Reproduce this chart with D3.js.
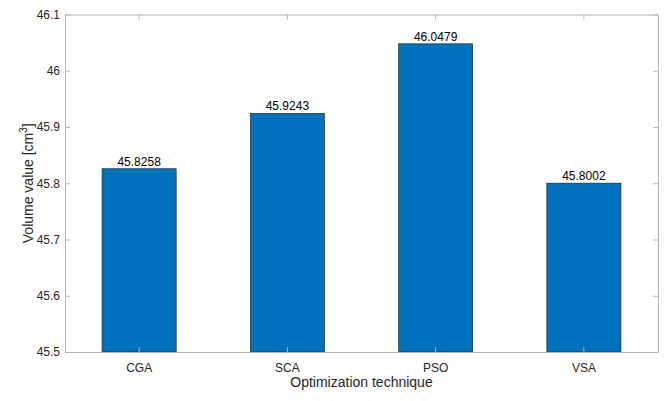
<!DOCTYPE html>
<html>
<head>
<meta charset="utf-8">
<script src="https://cdn.jsdelivr.net/npm/d3@7"></script>
<style>
  body { margin: 0; background: #fff; }
  text { font-family: "Liberation Sans", Arial, sans-serif; }
</style>
</head>
<body>
<svg id="chart" width="670" height="401"></svg>
<script>
// data
var categories = ["CGA", "SCA", "PSO", "VSA"];
var volumes = [45.8258, 45.9243, 46.0479, 45.8002];
var yTicks = [45.5, 45.6, 45.7, 45.8, 45.9, 46, 46.1];

var margin = { left: 65, right: 12, top: 14.5, bottom: 49 };
var W = 670, H = 401;
var svg = d3.select("#chart");

var x = d3.scaleBand()
  .domain(categories)
  .range([margin.left, W - margin.right])
  .paddingInner(0.5)
  .paddingOuter(0.25);

var y = d3.scaleLinear()
  .domain([45.5, 46.1])
  .range([H - margin.bottom, margin.top]);

var axisColor = "#b3b3b3";
var textColor = "#262626";

// bars
svg.append("g").selectAll("rect")
  .data(volumes)
  .enter().append("rect")
  .attr("x", function(d, i) { return x(categories[i]); })
  .attr("width", x.bandwidth())
  .attr("y", function(d) { return y(d); })
  .attr("height", function(d) { return y(45.5) - y(d); })
  .attr("fill", "#0072bd")
  .attr("stroke", "#1a1a1a")
  .attr("stroke-width", 0.6);

// value labels
svg.append("g").selectAll("text")
  .data(volumes)
  .enter().append("text")
  .attr("x", function(d, i) { return x(categories[i]) + x.bandwidth() / 2; })
  .attr("y", function(d) { return y(d) - 3; })
  .attr("text-anchor", "middle")
  .attr("font-size", "12px")
  .attr("fill", "#000")
  .text(function(d) { return d.toFixed(4); });

// axes (MATLAB style: ticks inside, box on)
var bottomAxis = d3.axisBottom(x).tickSizeInner(-5).tickSizeOuter(0).tickPadding(11);
var topAxis = d3.axisTop(x).tickSizeInner(-5).tickSizeOuter(0).tickFormat("");
var leftAxis = d3.axisLeft(y).tickValues(yTicks).tickSizeInner(-5).tickSizeOuter(0).tickPadding(5)
  .tickFormat(function(d) { return d3.format("")(+d.toFixed(1)); });
var rightAxis = d3.axisRight(y).tickValues(yTicks).tickSizeInner(-5).tickSizeOuter(0).tickFormat("");

function styleAxis(g) {
  g.select(".domain").attr("stroke", axisColor);
  g.selectAll(".tick line").attr("stroke", axisColor);
  g.selectAll(".tick text").attr("fill", textColor).attr("font-size", "12px")
    .attr("font-family", "Liberation Sans, Arial, sans-serif");
}

svg.append("g").attr("transform", "translate(0," + y(45.5) + ")").call(bottomAxis).call(styleAxis);
svg.append("g").attr("transform", "translate(0," + y(46.1) + ")").call(topAxis).call(styleAxis);
svg.append("g").attr("transform", "translate(" + margin.left + ",0)").call(leftAxis).call(styleAxis);
svg.append("g").attr("transform", "translate(" + (W - margin.right) + ",0)").call(rightAxis).call(styleAxis);

// axis titles
svg.append("text")
  .attr("x", (margin.left + W - margin.right) / 2)
  .attr("y", 387)
  .attr("text-anchor", "middle")
  .attr("font-size", "14px")
  .attr("fill", textColor)
  .text("Optimization technique");

var yl = svg.append("text")
  .attr("transform", "translate(33," + ((margin.top + H - margin.bottom) / 2) + ") rotate(-90)")
  .attr("text-anchor", "middle")
  .attr("font-size", "14px")
  .attr("fill", textColor);
yl.append("tspan").text("Volume value [cm");
yl.append("tspan").attr("font-size", "10px").attr("dy", "-6").text("3");
yl.append("tspan").attr("dy", "6").text("]");
</script>
</body>
</html>
